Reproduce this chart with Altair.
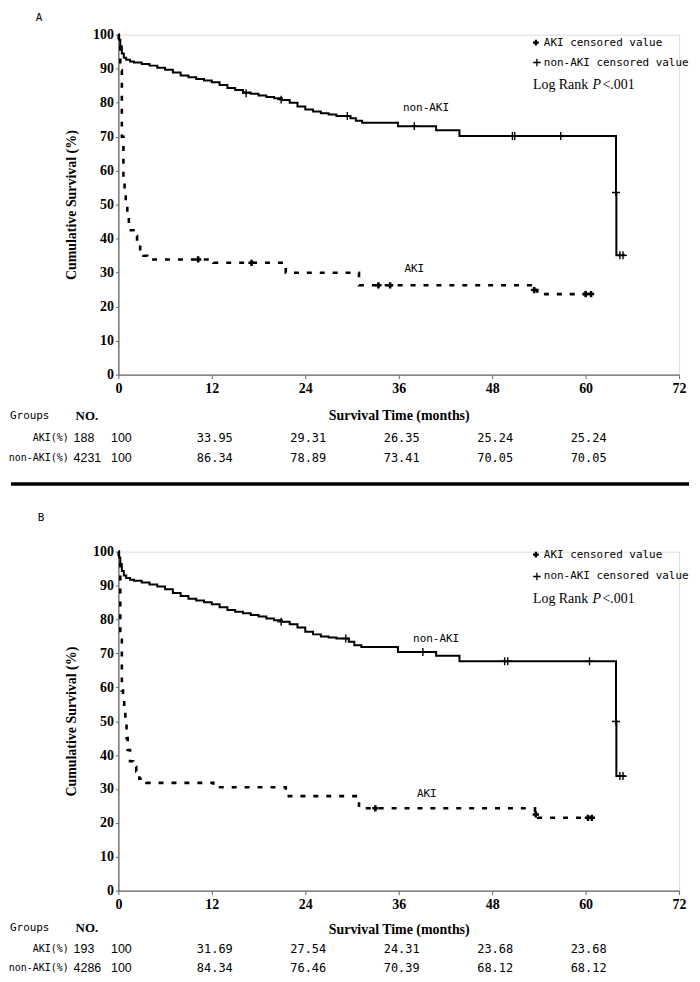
import altair as alt
import pandas as pd

# ---------------- data: panel A ----------------
A_non_t = [0, 0.1, 0.25, 0.45, 0.7, 1.0, 1.5, 2.0, 3.0, 4.0, 5.0, 6.0, 7.0, 8.0, 9.0, 10.0,
           11.0, 12.0, 13.0, 14.0, 15.0, 16.0, 17.0, 18.0, 19.0, 20.0, 21.0, 22.0, 23.0,
           24.0, 25.0, 26.0, 27.0, 28.0, 29.8, 30.5, 31.3, 35.9, 40.8, 43.8, 63.9, 63.95, 65.1]
A_non_v = [100, 98.5, 96.5, 94.5, 93.2, 92.6, 92.1, 91.8, 91.4, 90.9, 90.3, 89.7, 88.9, 88.0,
           87.5, 87.0, 86.5, 86.0, 85.2, 84.3, 83.7, 83.0, 82.6, 82.1, 81.7, 81.3, 80.8, 80.0,
           78.9, 78.0, 77.4, 76.9, 76.5, 76.1, 75.4, 74.7, 74.1, 73.1, 71.9, 70.2, 53.6, 35.1, 35.1]
A_non_cens_t = [16.4, 20.9, 29.4, 38.0, 50.6, 50.9, 56.8, 63.9, 64.4, 64.8]
A_non_cens_v = [82.8, 80.9, 76.1, 73.1, 70.2, 70.2, 70.2, 53.6, 35.1, 35.1]

A_aki_t = [0, 0.05, 0.25, 0.45, 0.65, 0.8, 0.95, 1.15, 1.35, 1.6, 1.95, 2.4, 2.8, 3.2, 3.7,
           12.2, 21.5, 30.9, 53.3, 53.8, 61.0]
A_aki_v = [100, 96.5, 89.5, 70, 57, 53, 50, 46.5, 44.3, 42.5, 40.8, 38.5, 36.5, 35.0, 33.9,
           32.9, 30.0, 26.3, 24.9, 23.7, 23.7]
A_aki_cens_t = [10.25, 17.1, 33.4, 34.9, 53.4, 60.0, 60.7]
A_aki_cens_v = [33.9, 32.9, 26.3, 26.3, 24.9, 23.7, 23.7]

# ---------------- data: panel B ----------------
B_non_t = [0, 0.1, 0.25, 0.45, 0.7, 1.0, 1.5, 2.0, 3.0, 4.0, 5.0, 6.0, 7.0, 8.0, 9.0, 10.0,
           11.0, 12.0, 13.0, 14.0, 15.0, 16.0, 17.0, 18.0, 19.0, 20.0, 21.0, 22.0, 23.0,
           24.0, 25.0, 26.0, 27.0, 28.0, 29.6, 30.3, 31.2, 35.9, 40.8, 43.8, 63.9, 63.95, 65.1]
B_non_v = [100, 98.3, 96.3, 94.3, 93.0, 92.2, 91.7, 91.4, 90.9, 90.3, 89.7, 88.9, 87.8, 86.9,
           86.1, 85.6, 85.1, 84.5, 83.6, 82.8, 82.3, 81.8, 81.3, 80.9, 80.3, 79.8, 79.3, 78.6,
           77.6, 76.4, 75.6, 75.0, 74.7, 74.4, 73.4, 72.4, 71.9, 70.4, 69.3, 67.7, 49.9, 33.8, 33.8]
B_non_cens_t = [20.9, 29.2, 39.1, 49.6, 50.0, 60.5, 63.9, 64.4, 64.8]
B_non_cens_v = [79.3, 74.4, 70.4, 67.7, 67.7, 67.7, 49.9, 33.8, 33.8]

B_aki_t = [0, 0.05, 0.25, 0.45, 0.6, 0.75, 0.9, 1.05, 1.2, 1.5, 1.9, 2.3, 2.7, 3.6,
           12.2, 21.5, 30.9, 53.5, 53.9, 60.9]
B_aki_v = [100, 96.9, 74, 59, 56.7, 53, 49.9, 45, 41.5, 38.2, 36.5, 35.2, 33.0, 31.8,
           30.5, 27.9, 24.3, 22.5, 21.5, 21.5]
B_aki_cens_t = [33.0, 53.6, 60.3, 60.8]
B_aki_cens_v = [24.3, 22.5, 21.5, 21.5]

# ---------------- table / labels ----------------
table_months = [0, 12, 24, 36, 48, 60]
A_aki_tab = ["100", "33.95", "29.31", "26.35", "25.24", "25.24"]
A_non_tab = ["100", "86.34", "78.89", "73.41", "70.05", "70.05"]
B_aki_tab = ["100", "31.69", "27.54", "24.31", "23.68", "23.68"]
B_non_tab = ["100", "84.34", "76.46", "70.39", "68.12", "68.12"]
A_n = ["188", "4231"]
B_n = ["193", "4286"]
row_names = ["AKI(%)", "non-AKI(%)"]

A_label_pos = {"non-AKI": (39.5, 78.4), "AKI": (38.0, 31.0)}
B_label_pos = {"non-AKI": (40.8, 74.3), "AKI": (39.6, 28.5)}

x_ticks = [0, 12, 24, 36, 48, 60, 72]
y_ticks = list(range(0, 101, 10))

SERIF = "Liberation Serif"
MONO = "DejaVu Sans Mono"
SANS = "Liberation Sans"

X_SCALE = alt.Scale(domain=[0, 72], nice=False, zero=False)
Y_SCALE = alt.Scale(domain=[0, 100], nice=False)


def make_x_axis(title_pad):
    return alt.Axis(values=x_ticks, title="Survival Time (months)", format="d",
                    labelFont=SERIF, labelFontWeight="bold", labelFontSize=14,
                    labelColor="black", titleFont=SERIF, titleFontWeight="bold",
                    titleFontSize=14, titleColor="black", domainColor="#666",
                    tickColor="#666", domainWidth=1.3, tickSize=4, labelPadding=3,
                    titlePadding=title_pad, grid=False, labelFlush=False)


Y_AXIS = alt.Axis(values=y_ticks, title="Cumulative Survival (%)", format="d",
                  labelFont=SERIF, labelFontWeight="bold", labelFontSize=14, labelColor="black",
                  titleFont=SERIF, titleFontWeight="bold", titleFontSize=14, titleColor="black",
                  domainColor="#666", tickColor="#666", domainWidth=1.3, tickSize=3,
                  labelPadding=2, titlePadding=14, grid=False)


def yenc(field):
    return alt.Y(field, type="quantitative", scale=Y_SCALE, axis=Y_AXIS)


def txt(s, x, y, font=MONO, size=11, align="left", baseline="middle", weight="normal",
        style="normal"):
    return alt.Chart(pd.DataFrame({"s": [s]})).mark_text(
        font=font, fontSize=size, align=align, baseline=baseline, fontWeight=weight,
        fontStyle=style, color="black"
    ).encode(x=alt.value(x), y=alt.value(y), text="s:N")


def panel(letter, letter_xy, non_t, non_v, non_ct, non_cv, aki_t, aki_v, aki_ct, aki_cv,
          label_pos, n_vals, aki_tab, non_tab, legend_y, table_y, height, title_pad,
          separator=False):
    x_axis = make_x_axis(title_pad)

    def xenc(field):
        return alt.X(field, type="quantitative", scale=X_SCALE, axis=x_axis)

    non_df = pd.DataFrame({"t": non_t, "v": non_v})
    aki_df = pd.DataFrame({"t": aki_t, "v": aki_v})
    non_c = pd.DataFrame({"t": non_ct, "v": non_cv})
    aki_c = pd.DataFrame({"t": aki_ct, "v": aki_cv})
    lab_df = pd.DataFrame({"name": list(label_pos.keys()),
                           "t": [p[0] for p in label_pos.values()],
                           "v": [p[1] for p in label_pos.values()]})

    layers = []
    layers.append(alt.Chart(non_df).mark_line(interpolate="step-after", color="black",
                                              strokeWidth=2).encode(x=xenc("t"), y=yenc("v")))
    layers.append(alt.Chart(aki_df).mark_line(interpolate="step-after", color="black",
                                              strokeWidth=2.6, strokeDash=[5, 8])
                  .encode(x=xenc("t"), y=yenc("v")))
    layers.append(alt.Chart(non_c).mark_point(shape="M-1,0L1,0M0,-1L0,1", filled=False,
                                              color="black", strokeWidth=1.4, size=64, opacity=1)
                  .encode(x=xenc("t"), y=yenc("v")))
    layers.append(alt.Chart(aki_c).mark_point(shape="cross", filled=True, color="black",
                                              size=40, opacity=1)
                  .encode(x=xenc("t"), y=yenc("v")))
    layers.append(alt.Chart(lab_df).mark_text(font=MONO, fontSize=11, color="black")
                  .encode(x=xenc("t"), y=yenc("v"), text="name:N"))

    # legend block
    ly1, ly2, ly3 = legend_y
    layers.append(alt.Chart(pd.DataFrame({"a": [0]})).mark_point(
        shape="cross", filled=True, color="black", size=34, opacity=1)
        .encode(x=alt.value(420), y=alt.value(ly1)))
    layers.append(alt.Chart(pd.DataFrame({"a": [0]})).mark_point(
        shape="M-1,0L1,0M0,-1L0,1", filled=False, color="black", strokeWidth=1.3, size=56,
        opacity=1).encode(x=alt.value(421), y=alt.value(ly2)))
    layers.append(txt("AKI censored value", 428, ly1))
    layers.append(txt("non-AKI censored value", 428, ly2))
    layers.append(txt("Log Rank ", 417, ly3, font=SERIF, size=14))
    layers.append(txt("P", 477, ly3, font=SERIF, size=14, style="italic"))
    layers.append(txt("<.001", 487, ly3, font=SERIF, size=14))

    # panel letter
    layers.append(txt(letter, letter_xy[0], letter_xy[1], size=11, baseline="top"))

    # number-at-risk style table
    gy, ay, ny = table_y
    layers.append(txt("Groups", -109, gy, size=11))
    layers.append(txt("NO.", -43, gy, font=SERIF, size=13, weight="bold"))
    layers.append(txt(row_names[0], -50, ay, size=10, align="right"))
    layers.append(txt(row_names[1], -50, ny, size=10, align="right"))
    layers.append(txt(n_vals[0], -45, ay, font=SANS, size=12.5))
    layers.append(txt(n_vals[1], -45, ny, font=SANS, size=12.5))
    for vals, yy in ((aki_tab, ay), (non_tab, ny)):
        tdf = pd.DataFrame({"month": table_months, "val": vals})
        layers.append(alt.Chart(tdf).transform_filter("datum.month == 0")
                      .mark_text(font=SANS, fontSize=12.5, align="center", dx=3, color="black")
                      .encode(x=xenc("month"), y=alt.value(yy), text="val:N"))
        layers.append(alt.Chart(tdf).transform_filter("datum.month > 0")
                      .mark_text(font=MONO, fontSize=12, align="center", dx=3, color="black")
                      .encode(x=xenc("month"), y=alt.value(yy), text="val:N"))

    if separator:
        layers.append(alt.Chart(pd.DataFrame({"a": [0]})).mark_rule(
            color="black", strokeWidth=3.5)
            .encode(x=alt.value(-108), x2=alt.value(574), y=alt.value(452)))

    return alt.layer(*layers).properties(width=564, height=height)


panel_a = panel("A", (-83, -23), A_non_t, A_non_v, A_non_cens_t, A_non_cens_v,
                A_aki_t, A_aki_v, A_aki_cens_t, A_aki_cens_v, A_label_pos, A_n,
                A_aki_tab, A_non_tab, (8, 28, 51), (384, 406, 426), 342, 13,
                separator=True)
panel_b = panel("B", (-81, -40), B_non_t, B_non_v, B_non_cens_t, B_non_cens_v,
                B_aki_t, B_aki_v, B_aki_cens_t, B_aki_cens_v, B_label_pos, B_n,
                B_aki_tab, B_non_tab, (3, 25, 48), (379, 400, 419), 341, 11)

chart = alt.vconcat(panel_a, panel_b, spacing=178, bounds="flush").properties(
    padding=0
).configure_view(stroke=None).configure(background="white")

chart.save("out.html", embed_options={"renderer": "svg", "actions": False})
